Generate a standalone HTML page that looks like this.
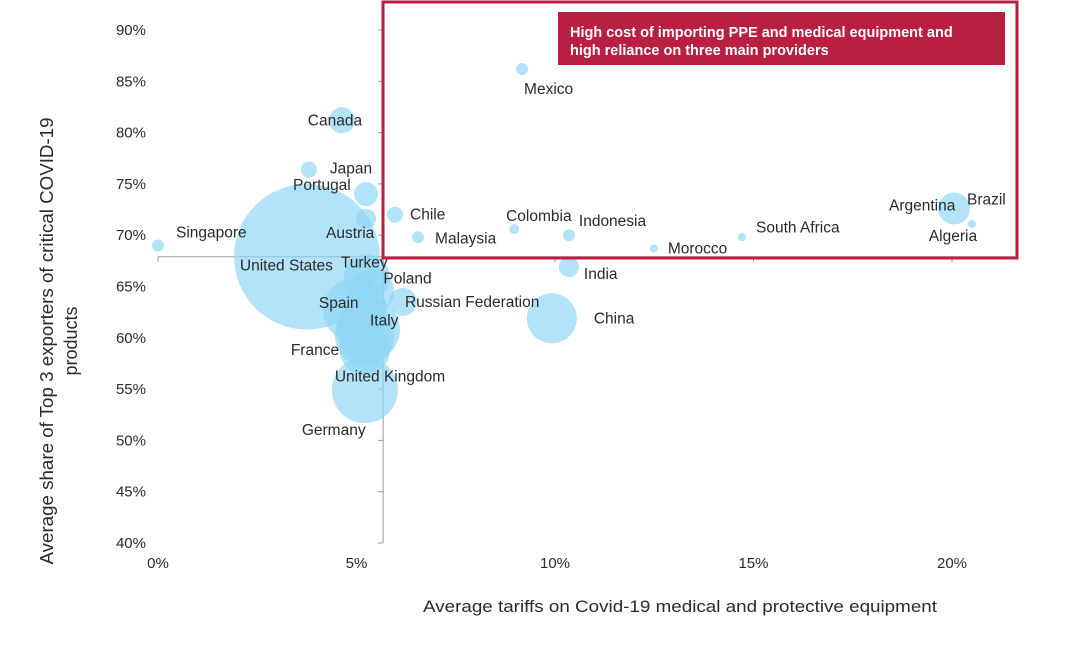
<!DOCTYPE html>
<html><head><meta charset="utf-8"><style>
body{margin:0;background:#fff;}
svg{display:block;font-family:"Liberation Sans",Arial,sans-serif;}
.t{font-size:15.5px;fill:#2a2a2a;}
</style></head><body>
<svg id="chart" width="1081" height="646" viewBox="0 0 1081 646" xmlns="http://www.w3.org/2000/svg">
<g id="axes"></g>
<g id="bubbles"></g>
<g id="labels"></g>
<rect x="383" y="2" width="634" height="256" fill="none" stroke="#b81f40" stroke-width="3"/>
<g>
<rect x="558" y="12" width="447" height="53" fill="#b81f40"/>
<text x="570" y="37" font-size="14.5" font-weight="bold" fill="#fff">High cost of importing PPE and medical equipment and</text>
<text x="570" y="55" font-size="14.5" font-weight="bold" fill="#fff">high reliance on three main providers</text>
</g>
<text x="680" y="612" font-size="16.5" fill="#2a2a2a" text-anchor="middle" textLength="514" lengthAdjust="spacingAndGlyphs">Average tariffs on Covid-19 medical and protective equipment</text>
<g transform="translate(53,341) rotate(-90)">
<text x="0" y="0" font-size="18" fill="#2a2a2a" text-anchor="middle" textLength="447" lengthAdjust="spacingAndGlyphs">Average share of Top 3 exporters of critical COVID-19</text>
<text x="0" y="24" font-size="18" fill="#2a2a2a" text-anchor="middle">products</text>
</g>
</svg>
<script>
const countries=["Singapore","United States","Japan","Canada","Portugal","Austria","Chile","Malaysia","Turkey","Poland","Spain","Italy","France","United Kingdom","Germany","Russian Federation","Mexico","Colombia","Indonesia","India","China","Morocco","South Africa","Brazil","Argentina","Algeria"];
const tariffs=[0,3.75,3.8,4.63,5.24,5.24,5.97,6.55,5.26,5.4,4.96,5.29,5.21,5.21,5.21,6.17,9.17,8.97,10.35,10.35,9.92,12.49,14.71,20.05,20.05,20.5];
const shares=[69.0,67.9,76.4,81.2,74.0,71.6,72.0,69.8,65.9,64.5,62.7,60.8,58.8,60.2,54.9,63.5,86.2,70.6,70.0,66.9,61.9,68.7,69.8,72.6,72.6,71.1];
const sizes=[36,5300,64,169,144,100,64,36,530,480,1020,1020,625,900,1090,196,36,25,36,100,625,16,16,256,1,16];
const labelDx=[18,-67,21,-34,-73,-40,15,17,-26,11,-36,2,-74,-30,-63,2,2,-8,10,15,42,14,14,13,-65,-43];
const labelDy=[-8,14,4,5,-4,19,5,6,-10,-8,-2,-4,5,46,45,5,25,-8,-9,12,5,5,-5,-4,2,17];
const yTicks=[40,45,50,55,60,65,70,75,80,85,90];
const xTicks=[0,5,10,15,20];
const x=v=>158+v*39.7;
const y=v=>543-(v-40)*10.26;
const NS="http://www.w3.org/2000/svg";
function mk(tag,attrs,parent){const e=document.createElementNS(NS,tag);for(const k in attrs)e.setAttribute(k,attrs[k]);parent.appendChild(e);return e;}
const ax=document.getElementById('axes');
const crossX=x(5.67), crossY=y(67.9);
let l=mk('line',{x1:158,y1:crossY,x2:1017,y2:crossY,stroke:'#999','stroke-width':1},ax);


l=mk('line',{x1:crossX,y1:y(90)-2,x2:crossX,y2:y(40),stroke:'#999','stroke-width':1},ax);


yTicks.forEach(v=>{
 const tk=mk('line',{x1:crossX-5,y1:y(v),x2:crossX,y2:y(v),stroke:'#999'},ax);
 
 
 const t=mk('text',{x:146,y:y(v)+5,'text-anchor':'end','font-size':15,fill:'#2a2a2a'},ax);
 t.textContent=v+'%';
 
 
});
xTicks.forEach(v=>{
 const tk=mk('line',{x1:x(v),y1:crossY,x2:x(v),y2:crossY+5,stroke:'#999'},ax);
 
 
 const t=mk('text',{x:x(v),y:568,'text-anchor':'middle','font-size':15,fill:'#2a2a2a'},ax);
 t.textContent=v+'%';
 
 
});
const bg=document.getElementById('bubbles'), lg=document.getElementById('labels');
countries.forEach((c,i)=>{
 const cx=x(tariffs[i]), cy=y(shares[i]);
 const b=mk('circle',{cx:cx,cy:cy,r:Math.sqrt(sizes[i]),fill:'#8fd6f5','fill-opacity':0.68},bg);
 
 
 const t=mk('text',{x:cx+labelDx[i],y:cy+labelDy[i],class:'t'},lg);
 t.textContent=c;
 
 
});
</script>
</body></html>
